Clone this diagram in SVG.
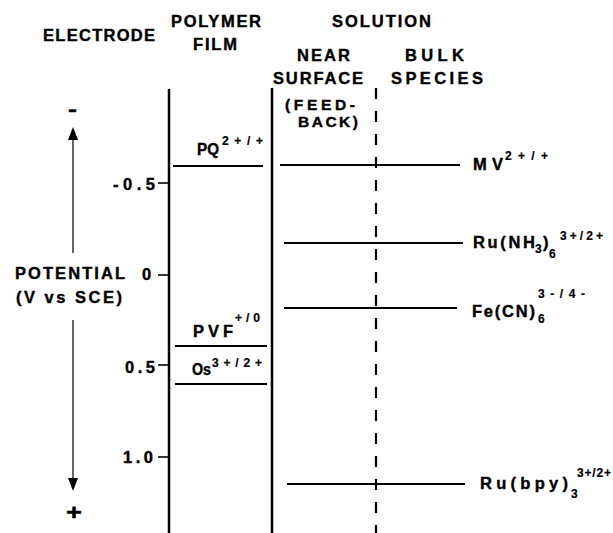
<svg xmlns="http://www.w3.org/2000/svg" width="613" height="533" viewBox="0 0 613 533">
<style>
text{font-family:"Liberation Sans",Arial,sans-serif;font-weight:bold;fill:#000;stroke:#000;stroke-width:0.4}
.h{font-size:16.5px}
.l{font-size:16.5px}
.s{font-size:12px;stroke-width:0.2}
.ax{stroke:#000;stroke-width:2.5;fill:none}
.lv{stroke:#000;stroke-width:2;fill:none}
.tk{stroke:#000;stroke-width:1.6;fill:none}
.ar{stroke:#000;stroke-width:1.2;fill:none}
.hd{fill:#000;stroke:none}
</style>
<rect width="613" height="533" fill="#fff"/>
<g id="headers">
<text class="h" x="43" y="41" textLength="112" lengthAdjust="spacing">ELECTRODE</text>
<text class="h" x="171" y="27" textLength="90" lengthAdjust="spacing">POLYMER</text>
<text class="h" x="193" y="50" textLength="44" lengthAdjust="spacing">FILM</text>
<text class="h" x="332" y="27" textLength="99" lengthAdjust="spacing">SOLUTION</text>
<text class="h" x="297" y="61" textLength="53" lengthAdjust="spacing">NEAR</text>
<text class="h" x="273" y="84" textLength="90" lengthAdjust="spacing">SURFACE</text>
<text class="h" x="285" y="110" textLength="70" lengthAdjust="spacing" style="font-size:15.5px">(FEED-</text>
<text class="h" x="298" y="127" textLength="60" lengthAdjust="spacing" style="font-size:15.5px">BACK)</text>
<text class="h" x="405" y="61" textLength="59" lengthAdjust="spacing">BULK</text>
<text class="h" x="391" y="84" textLength="92" lengthAdjust="spacing">SPECIES</text>
</g>
<g id="boundaries">
<line class="ax" x1="169" y1="89" x2="169" y2="533"/>
<line class="ax" x1="272" y1="88" x2="272" y2="533"/>
<line x1="376" y1="88" x2="376" y2="533" stroke="#000" stroke-width="2.2" stroke-dasharray="11 12"/>
</g>
<g id="axis">
<text class="h" x="15" y="279" textLength="110" lengthAdjust="spacing">POTENTIAL</text>
<text class="h" x="16" y="303" textLength="106" lengthAdjust="spacing">(V vs SCE)</text>
<text x="68" y="116" style="font-size:20px" textLength="9" lengthAdjust="spacingAndGlyphs">-</text>
<text x="66" y="520" style="font-size:22px" textLength="16" lengthAdjust="spacingAndGlyphs">+</text>
<line class="tk" x1="158" y1="183" x2="169" y2="183"/>
<line class="tk" x1="158" y1="275" x2="169" y2="275"/>
<line class="tk" x1="158" y1="365" x2="169" y2="365"/>
<line class="tk" x1="158" y1="457" x2="169" y2="457"/>
<text class="l" x="113" y="190" textLength="42" lengthAdjust="spacing">-0.5</text>
<text class="l" x="142" y="280" textLength="10" lengthAdjust="spacing">0</text>
<text class="l" x="125" y="373" textLength="30" lengthAdjust="spacing">0.5</text>
<text class="l" x="123" y="463" textLength="30" lengthAdjust="spacing">1.0</text>
</g>
<g id="connectors">
<line class="ar" x1="73" y1="253" x2="73" y2="138"/>
<polygon class="hd" points="73,127 68,140 78,140"/>
<line class="ar" x1="73" y1="320" x2="73" y2="480"/>
<polygon class="hd" points="73,491 68,478 78,478"/>
</g>
<g id="PQ">
<line class="lv" x1="173" y1="166" x2="263" y2="166"/>
<text class="l" x="197" y="155" textLength="22" lengthAdjust="spacingAndGlyphs">PQ</text>
<text class="s" x="222" y="145" textLength="41" lengthAdjust="spacing">2 + / +</text>
</g>
<g id="PVF">
<line class="lv" x1="175" y1="346" x2="267" y2="346"/>
<text class="l" x="193" y="337" textLength="40" lengthAdjust="spacing">PVF</text>
<text class="s" x="235" y="322" textLength="25" lengthAdjust="spacing">+ / 0</text>
</g>
<g id="Os">
<line class="lv" x1="175" y1="384" x2="267" y2="384"/>
<text class="l" x="192" y="375" textLength="19" lengthAdjust="spacingAndGlyphs">Os</text>
<text class="s" x="212" y="367" textLength="50" lengthAdjust="spacing">3 + / 2 +</text>
</g>
<g id="MV">
<line class="lv" x1="280" y1="165" x2="460" y2="165"/>
<text class="l" x="473" y="170" textLength="30" lengthAdjust="spacing">MV</text>
<text class="s" x="505" y="160" textLength="43" lengthAdjust="spacing">2 + / +</text>
</g>
<g id="RuNH3">
<line class="lv" x1="284" y1="243" x2="463" y2="243"/>
<text class="l" x="473" y="248" textLength="62" lengthAdjust="spacing">Ru(NH</text>
<text class="s" x="535" y="253">3</text>
<text class="l" x="543" y="248">)</text>
<text class="s" x="549" y="258">6</text>
<text class="s" x="560" y="240" textLength="43" lengthAdjust="spacing">3 + / 2 +</text>
</g>
<g id="FeCN">
<line class="lv" x1="284" y1="308" x2="457" y2="308"/>
<text class="l" x="472" y="317" textLength="63" lengthAdjust="spacing">Fe(CN)</text>
<text class="s" x="538" y="323">6</text>
<text class="s" x="538" y="298" textLength="47" lengthAdjust="spacing">3 - / 4 -</text>
</g>
<g id="Rubpy">
<line class="lv" x1="287" y1="484" x2="465" y2="484"/>
<text class="l" x="480" y="489" textLength="88" lengthAdjust="spacing">Ru(bpy)</text>
<text class="s" x="571" y="498">3</text>
<text class="s" x="577" y="477" textLength="34" lengthAdjust="spacing">3 + / 2 +</text>
</g>
</svg>
